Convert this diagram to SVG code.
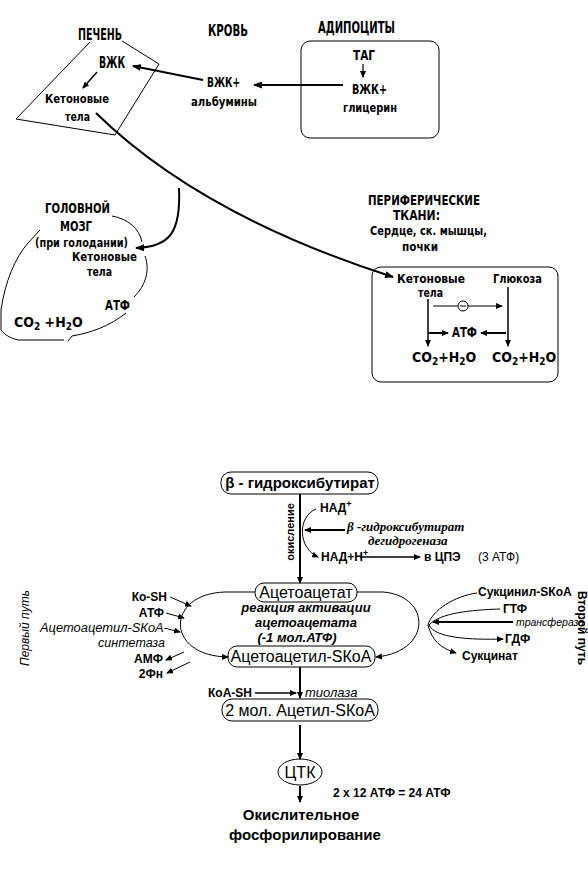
<svg xmlns="http://www.w3.org/2000/svg" width="588" height="872" viewBox="0 0 588 872">
<style>
.n{font-family:"Liberation Sans Narrow","DejaVu Sans Condensed","Liberation Sans",sans-serif;font-stretch:condensed;font-weight:bold;fill:#000}
.s{font-family:"Liberation Sans",Arial,sans-serif;fill:#000}
.b{font-weight:bold}
.i{font-style:italic}
.sf{font-family:"Liberation Serif","Times New Roman",serif;font-style:italic;font-weight:bold;fill:#000}
.ln{fill:none;stroke:#000}
.box{fill:#fff;stroke:#000;stroke-width:1}
</style>
<defs>
<marker id="ah" markerUnits="userSpaceOnUse" markerWidth="9" markerHeight="7" refX="8" refY="3.5" orient="auto"><path d="M0,0 L9,3.5 L0,7 z" fill="#000"/></marker>
<marker id="as" markerUnits="userSpaceOnUse" markerWidth="7" markerHeight="6" refX="6" refY="3" orient="auto"><path d="M0,0 L7,3 L0,6 z" fill="#000"/></marker>
</defs>
<rect width="588" height="872" fill="#fff"/>

<g id="liver">
<polyline class="ln" stroke-width="1" points="90,42 16,119 115,135 159,64 122,41"/>
<text class="n" x="78" y="40" font-size="15" textLength="44" lengthAdjust="spacingAndGlyphs">ПЕЧЕНЬ</text>
<text class="n" x="99" y="68" font-size="15" textLength="26" lengthAdjust="spacingAndGlyphs">ВЖК</text>
<text class="n" x="45" y="103" font-size="13" textLength="64" lengthAdjust="spacingAndGlyphs">Кетоновые</text>
<text class="n" x="65" y="121" font-size="13" textLength="25" lengthAdjust="spacingAndGlyphs">тела</text>
</g>

<g id="blood">
<text class="n" x="208" y="36" font-size="15" textLength="40" lengthAdjust="spacingAndGlyphs">КРОВЬ</text>
<text class="n" x="207" y="87" font-size="14" textLength="33" lengthAdjust="spacingAndGlyphs">ВЖК+</text>
<text class="n" x="191" y="106" font-size="13" textLength="66" lengthAdjust="spacingAndGlyphs">альбумины</text>
</g>

<g id="adipocytes">
<text class="n" x="318" y="33" font-size="15" textLength="77" lengthAdjust="spacingAndGlyphs">АДИПОЦИТЫ</text>
<rect class="box" x="301" y="41" width="138" height="97" rx="9"/>
<text class="n" x="353" y="60" font-size="14" textLength="22" lengthAdjust="spacingAndGlyphs">ТАГ</text>
<text class="n" x="352" y="94" font-size="14" textLength="35" lengthAdjust="spacingAndGlyphs">ВЖК+</text>
<text class="n" x="343" y="112" font-size="13" textLength="54" lengthAdjust="spacingAndGlyphs">глицерин</text>
</g>

<g id="brain">
<path class="ln" stroke-width="1" d="M112,216 C128,219 139,228 142,242 M145,256 C150,270 146,285 134,297 M126,313 C110,326 90,333 72,336 L68,341 M64,340 L18,340 C10,338 5,335 1,330 L1,310 C5,282 15,258 28,243 L40,230"/>
<text class="n" x="45" y="213" font-size="14" textLength="65" lengthAdjust="spacingAndGlyphs">ГОЛОВНОЙ</text>
<text class="n" x="60" y="231" font-size="14" textLength="32" lengthAdjust="spacingAndGlyphs">МОЗГ</text>
<text class="n" x="35" y="247" font-size="13" textLength="93" lengthAdjust="spacingAndGlyphs">(при голодании)</text>
<text class="n" x="72" y="261" font-size="12.5" textLength="65" lengthAdjust="spacingAndGlyphs">Кетоновые</text>
<text class="n" x="87" y="276" font-size="12.5" textLength="25" lengthAdjust="spacingAndGlyphs">тела</text>
<text class="n" x="105" y="310" font-size="14" textLength="25" lengthAdjust="spacingAndGlyphs">АТФ</text>
<text class="n" x="14" y="327" font-size="14">CO<tspan font-size="10" dy="3">2</tspan><tspan dy="-3"> +H</tspan><tspan font-size="10" dy="3">2</tspan><tspan dy="-3">O</tspan></text>
</g>

<g id="peripheral">
<text class="n" x="368" y="205" font-size="14" textLength="112" lengthAdjust="spacingAndGlyphs">ПЕРИФЕРИЧЕСКИЕ</text>
<text class="n" x="393" y="220" font-size="14" textLength="47" lengthAdjust="spacingAndGlyphs">ТКАНИ:</text>
<text class="n" x="370" y="235" font-size="13" textLength="117" lengthAdjust="spacingAndGlyphs">Сердце, ск. мышцы,</text>
<text class="n" x="402" y="251" font-size="13" textLength="36" lengthAdjust="spacingAndGlyphs">почки</text>
<rect class="box" x="372" y="267" width="186" height="115" rx="9"/>
<text class="n" x="397" y="283" font-size="13" textLength="68" lengthAdjust="spacingAndGlyphs">Кетоновые</text>
<text class="n" x="418" y="297" font-size="13" textLength="25" lengthAdjust="spacingAndGlyphs">тела</text>
<text class="n" x="493" y="283" font-size="13" textLength="49" lengthAdjust="spacingAndGlyphs">Глюкоза</text>
<text class="n" x="452" y="337" font-size="14" textLength="25" lengthAdjust="spacingAndGlyphs">АТФ</text>
<text class="n" x="412" y="362" font-size="14">CO<tspan font-size="10" dy="3">2</tspan><tspan dy="-3">+H</tspan><tspan font-size="10" dy="3">2</tspan><tspan dy="-3">O</tspan></text>
<text class="n" x="492" y="362" font-size="14">CO<tspan font-size="10" dy="3">2</tspan><tspan dy="-3">+H</tspan><tspan font-size="10" dy="3">2</tspan><tspan dy="-3">O</tspan></text>
<circle cx="463" cy="306" r="5" fill="#fff" stroke="#000" stroke-width="1"/>
<line x1="460" y1="306" x2="466" y2="306" stroke="#000" stroke-width="1"/>
</g>

<g id="ketolysis">
<rect class="box" x="221" y="472" width="157" height="22" rx="10"/>
<text class="s b" x="300" y="488" font-size="15" text-anchor="middle">β - гидроксибутират</text>
<text class="s b" transform="translate(294,532) rotate(-90)" font-size="11" text-anchor="middle">окисление</text>
<text class="s b" x="320" y="512" font-size="12">НАД<tspan font-size="9" dy="-5">+</tspan></text>
<text class="sf" x="347" y="531" font-size="13">β -гидроксибутират</text>
<text class="sf" x="368" y="545" font-size="13">дегидрогеназа</text>
<text class="s b" x="321" y="561" font-size="12">НАД+Н<tspan font-size="9" dy="-5">+</tspan></text>
<text class="s b" x="424" y="561" font-size="12">в ЦПЭ</text>
<text class="s" x="478" y="561" font-size="12">(3 АТФ)</text>

<rect class="box" x="255" y="583" width="102" height="19" rx="9"/>
<text class="s" x="306" y="598" font-size="16" text-anchor="middle">Ацетоацетат</text>
<text class="s i b" x="306" y="612" font-size="13" text-anchor="middle">реакция активации</text>
<text class="s i b" x="306" y="627" font-size="13" text-anchor="middle">ацетоацетата</text>
<text class="s i b" x="297" y="642" font-size="13" text-anchor="middle">(-1 мол.АТФ)</text>
<rect class="box" x="228" y="646" width="147" height="21" rx="9"/>
<text class="s" x="301" y="662" font-size="16" text-anchor="middle">Ацетоацетил-SКоА</text>

<text class="s b" x="167" y="601" font-size="12" text-anchor="end">Ко-SH</text>
<text class="s b" x="164" y="617" font-size="12" text-anchor="end">АТФ</text>
<text class="s i" x="40" y="632" font-size="12.5" textLength="128" lengthAdjust="spacingAndGlyphs">Ацетоацетил-SКоА-</text>
<text class="s i" x="165" y="647" font-size="12.5" text-anchor="end">синтетаза</text>
<text class="s b" x="163" y="663" font-size="12" text-anchor="end">АМФ</text>
<text class="s b" x="163" y="678" font-size="12" text-anchor="end">2Фн</text>
<text class="s i" transform="translate(29,628) rotate(-90)" font-size="12" text-anchor="middle">Первый путь</text>

<text class="s b" x="478" y="596" font-size="12">Сукцинил-SКоА</text>
<text class="s b" x="503" y="613" font-size="12">ГТФ</text>
<text class="s i" x="516" y="626" font-size="10.5">трансфераза</text>
<text class="s b" x="505" y="643" font-size="12">ГДФ</text>
<text class="s b" x="462" y="660" font-size="12">Сукцинат</text>
<text class="s b" transform="translate(578,628) rotate(90)" font-size="12" text-anchor="middle">Второй путь</text>

<text class="s b" x="252" y="697" font-size="12" text-anchor="end">КоА-SH</text>
<text class="s i" x="305" y="697" font-size="13">тиолаза</text>
<rect class="box" x="222" y="699" width="156" height="22" rx="10"/>
<text class="s" x="300" y="716" font-size="16" text-anchor="middle">2 мол. Ацетил-SКоА</text>
<ellipse cx="300" cy="772" rx="22" ry="13" fill="#fff" stroke="#000" stroke-width="1"/>
<text class="s" x="300" y="778" font-size="16" text-anchor="middle">ЦТК</text>
<text class="s b" x="333" y="797" font-size="12">2 х 12 АТФ = 24 АТФ</text>
<text class="s b" x="301" y="820" font-size="15" text-anchor="middle">Окислительное</text>
<text class="s b" x="305" y="840" font-size="15" text-anchor="middle">фосфорилирование</text>
</g>

<g id="connectors">
<line class="ln" stroke-width="1.5" x1="97" y1="72" x2="83" y2="88" marker-end="url(#as)"/>
<line class="ln" stroke-width="2.2" x1="203" y1="80" x2="133" y2="66" marker-end="url(#ah)"/>
<line class="ln" stroke-width="2.2" x1="343" y1="85" x2="254" y2="85" marker-end="url(#ah)"/>
<line class="ln" stroke-width="1.2" x1="363" y1="64" x2="363" y2="77" marker-end="url(#as)"/>
<path class="ln" stroke-width="2" d="M96,113 Q200,215 393,277" marker-end="url(#ah)"/>
<path class="ln" stroke-width="2" d="M179,188 C181,232 170,247 136,248" marker-end="url(#ah)"/>
<line class="ln" stroke-width="1" x1="433" y1="306" x2="458" y2="306"/>
<line class="ln" stroke-width="1" x1="468" y1="306" x2="502" y2="306" marker-end="url(#as)"/>
<line class="ln" stroke-width="1.5" x1="428" y1="299" x2="428" y2="346" marker-end="url(#as)"/>
<line class="ln" stroke-width="2" x1="428" y1="333" x2="448" y2="333" marker-end="url(#as)"/>
<line class="ln" stroke-width="2" x1="506" y1="333" x2="481" y2="333" marker-end="url(#as)"/>
<line class="ln" stroke-width="1.5" x1="508" y1="287" x2="508" y2="346" marker-end="url(#as)"/>
<line class="ln" stroke-width="2" x1="300" y1="494" x2="300" y2="583" marker-end="url(#as)"/>
<path class="ln" stroke-width="1" d="M316,509 C297,517 298,548 318,557" marker-end="url(#as)"/>
<line class="ln" stroke-width="2" x1="345" y1="530" x2="305" y2="530" marker-end="url(#as)"/>
<line class="ln" stroke-width="1.5" x1="360" y1="557" x2="420" y2="557" marker-end="url(#as)"/>
<path class="ln" stroke-width="1" d="M255,592 H225 C165,594 165,656 228,657" marker-end="url(#as)"/>
<path class="ln" stroke-width="1" d="M357,592 H383 C432,596 432,652 376,657" marker-end="url(#as)"/>
<line class="ln" stroke-width="1" x1="170" y1="597" x2="191" y2="606" marker-end="url(#as)"/>
<line class="ln" stroke-width="1" x1="166" y1="613" x2="184" y2="618" marker-end="url(#as)"/>
<line class="ln" stroke-width="1" x1="168" y1="629" x2="180" y2="632" marker-end="url(#as)"/>
<line class="ln" stroke-width="1" x1="184" y1="652" x2="166" y2="660" marker-end="url(#as)"/>
<line class="ln" stroke-width="1" x1="190" y1="662" x2="167" y2="673" marker-end="url(#as)"/>
<path class="ln" stroke-width="1" d="M477,593 C455,596 432,610 428,625"/>
<path class="ln" stroke-width="1" d="M500,609 C470,610 440,613 429,625"/>
<line class="ln" stroke-width="2" x1="513" y1="622" x2="433" y2="622" marker-end="url(#as)"/>
<path class="ln" stroke-width="1" d="M429,625 C435,638 470,640 503,639" marker-end="url(#as)"/>
<path class="ln" stroke-width="1" d="M428,625 C432,640 440,648 456,653" marker-end="url(#as)"/>
<line class="ln" stroke-width="2" x1="300" y1="667" x2="300" y2="698" marker-end="url(#as)"/>
<line class="ln" stroke-width="1.5" x1="255" y1="693" x2="296" y2="693" marker-end="url(#as)"/>
<line class="ln" stroke-width="2" x1="300" y1="725" x2="300" y2="759" marker-end="url(#as)"/>
<line class="ln" stroke-width="2" x1="300" y1="786" x2="300" y2="802" marker-end="url(#as)"/>
</g>
</svg>
